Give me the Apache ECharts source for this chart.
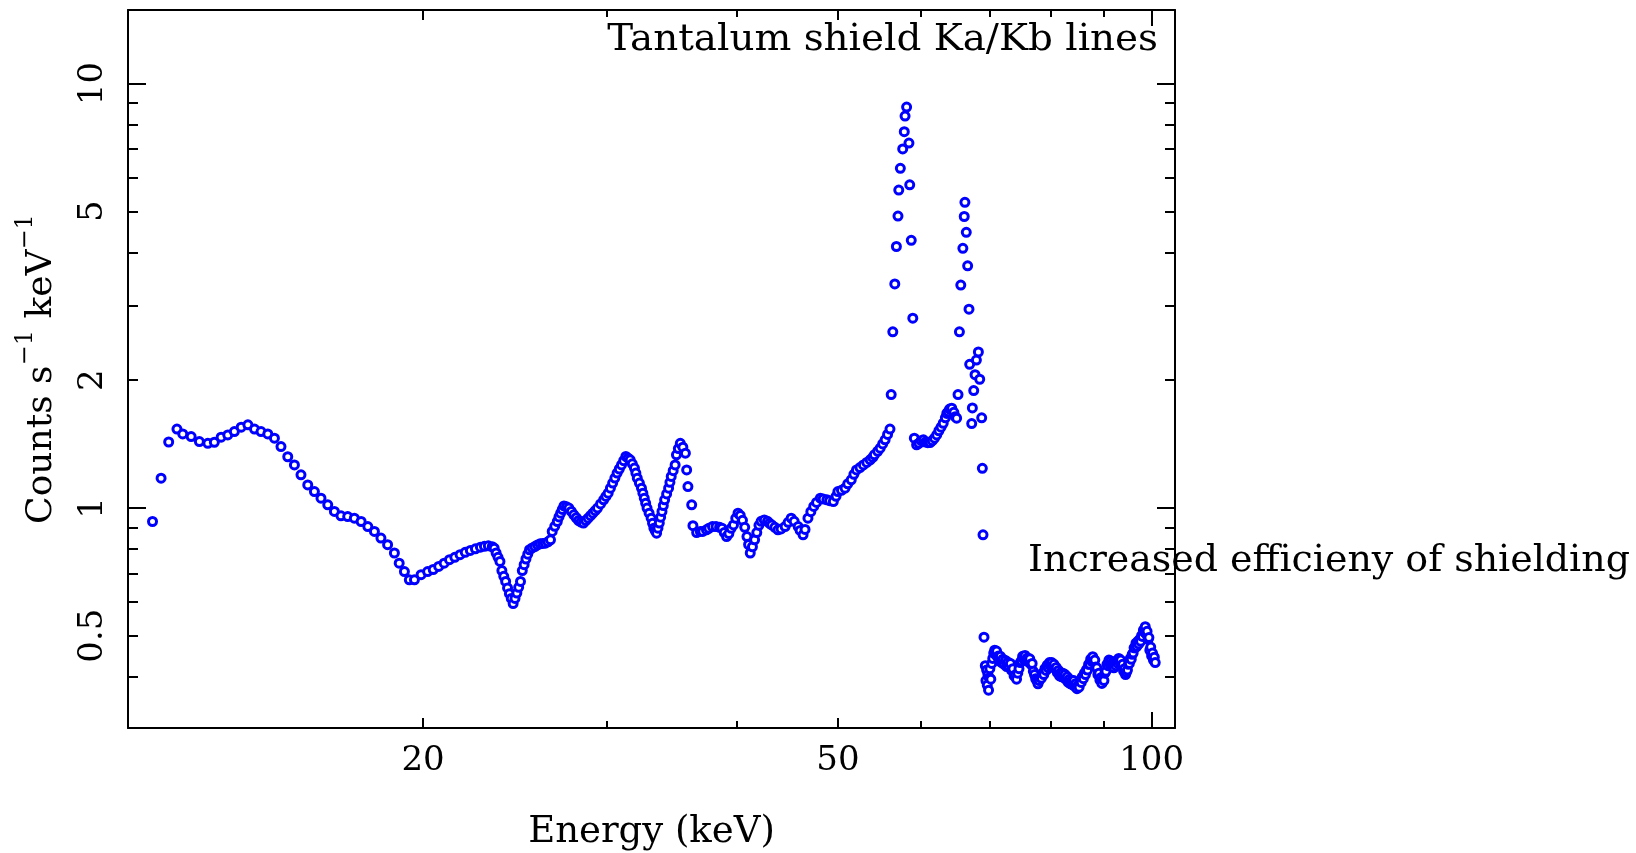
<!doctype html>
<html>
<head>
<meta charset="utf-8">
<title>Tantalum shield Ka/Kb lines</title>
<style>
    html,body{margin:0;padding:0;background:#fff;}
    #ID-Spectrum{width:1636px;height:853px;}
</style>
</head>
<body>
<div id="ID-Spectrum"></div>
<script src="https://cdn.jsdelivr.net/npm/echarts@6/dist/echarts.min.js"></script>
<script>
    /*=========================
      Data  [energy keV, counts s-1 keV-1]
      ===========================*/
    // low-energy hump, 11 - 20 keV
    var riseBand = [
        [11.00,0.929],[11.21,1.175],[11.40,1.430],[11.61,1.534],[11.76,1.494],[11.98,1.473],
        [12.20,1.433],[12.43,1.420],[12.61,1.428],[12.80,1.468],[12.99,1.486],[13.18,1.513],
        [13.38,1.550],[13.58,1.570],[13.78,1.534],[13.98,1.513],[14.19,1.494],[14.40,1.460],
        [14.61,1.395],[14.83,1.320],[15.05,1.263],[15.27,1.197],[15.50,1.133],[15.73,1.093],
        [15.96,1.054],[16.20,1.017],[16.44,0.981],[16.68,0.958],[16.93,0.954],[17.18,0.946],
        [17.44,0.929],[17.70,0.904],[17.96,0.880],[18.22,0.849],[18.49,0.819],[18.77,0.783],
        [18.97,0.741],[19.19,0.708],[19.40,0.677],[19.62,0.677],[19.91,0.696],[20.20,0.708]
    ];
    // edges region, 20 - 36 keV
    var edgeBand = [
        [20.45,0.716],[20.70,0.728],[20.95,0.741],[21.20,0.755],[21.45,0.765],[21.70,0.776],
        [21.95,0.786],[22.20,0.794],[22.45,0.801],[22.70,0.808],[22.90,0.812],[23.10,0.814],
        [23.30,0.810],[23.40,0.804],[23.50,0.783],[23.60,0.765],[23.70,0.748],[23.80,0.712],
        [23.90,0.690],[24.00,0.671],[24.10,0.648],[24.20,0.628],[24.30,0.612],[24.40,0.595],
        [24.50,0.612],[24.60,0.630],[24.70,0.650],[24.80,0.671],[24.90,0.712],[25.00,0.735],
        [25.10,0.758],[25.20,0.778],[25.30,0.797],[25.45,0.805],[25.60,0.811],[25.75,0.818],
        [25.90,0.823],[26.05,0.825],[26.20,0.826],[26.35,0.832],[26.50,0.841],[26.60,0.880],
        [26.75,0.905],[26.90,0.929],[27.00,0.952],[27.10,0.972],[27.20,0.992],[27.30,1.011],
        [27.45,1.006],[27.60,0.999],[27.75,0.981],[27.90,0.963],[28.05,0.948],[28.20,0.934],
        [28.35,0.926],[28.50,0.921],[28.65,0.934],[28.80,0.946],[28.95,0.959],[29.10,0.972],
        [29.25,0.985],[29.40,0.999],[29.60,1.022],[29.80,1.045],[29.95,1.064],[30.10,1.083],
        [30.25,1.113],[30.40,1.144],[30.55,1.176],[30.70,1.208],[30.85,1.235],[31.00,1.263],
        [31.15,1.292],[31.30,1.322],[31.45,1.310],[31.60,1.298],[31.75,1.270],[31.90,1.241],
        [32.00,1.208],[32.10,1.175],[32.25,1.144],[32.40,1.113],[32.50,1.083],[32.60,1.054],
        [32.70,1.026],[32.80,0.999],[32.95,0.972],[33.10,0.946],[33.20,0.920],[33.30,0.896],
        [33.40,0.884],[33.50,0.872],[33.60,0.896],[33.70,0.921],[33.80,0.951],[33.90,0.981],
        [34.00,1.013],[34.10,1.045],[34.25,1.079],[34.40,1.113],[34.50,1.149],[34.60,1.186],
        [34.75,1.224],[34.90,1.263],[35.00,1.334],[35.15,1.380],[35.30,1.420],[35.50,1.390],
        [35.70,1.346],[35.80,1.229],[35.90,1.123],[36.20,1.017],[36.30,0.908]
    ];
    // continuum up to the Ka line, 36 - 56 keV
    var midBand = [
        [36.60,0.875],[36.90,0.880],[37.10,0.880],[37.40,0.888],[37.60,0.895],[37.90,0.904],
        [38.20,0.904],[38.50,0.900],[38.70,0.896],[38.90,0.875],[39.10,0.856],[39.30,0.870],
        [39.50,0.895],[39.70,0.912],[39.90,0.945],[40.10,0.972],[40.30,0.960],[40.50,0.935],
        [40.70,0.900],[40.90,0.856],[41.05,0.820],[41.20,0.783],[41.40,0.810],[41.60,0.841],
        [41.80,0.875],[42.00,0.910],[42.20,0.930],[42.50,0.937],[42.80,0.930],[43.00,0.920],
        [43.20,0.912],[43.50,0.900],[43.80,0.888],[44.10,0.892],[44.50,0.904],[44.80,0.925],
        [45.10,0.946],[45.40,0.930],[45.80,0.904],[46.00,0.885],[46.30,0.864],[46.50,0.890],
        [46.80,0.946],[47.10,0.980],[47.40,1.008],[47.70,1.030],[48.10,1.054],[48.40,1.050],
        [48.80,1.045],[49.10,1.040],[49.50,1.035],[49.80,1.065],[50.00,1.093],[50.40,1.100],
        [50.80,1.113],[51.10,1.140],[51.50,1.165],[51.80,1.200],[52.10,1.229],[52.50,1.245],
        [52.90,1.263],[53.30,1.280],[53.70,1.298],[54.00,1.315],[54.20,1.334],[54.60,1.360],
        [54.90,1.383],[55.20,1.415],[55.50,1.447],[55.80,1.490],[56.10,1.534]
    ];
    // Ta Ka / Kb lines and the K edge, 56 - 69 keV
    var lineBand = [
        [56.25,1.850],[56.45,2.600],[56.70,3.370],[56.90,4.130],[57.10,4.870],[57.20,5.610],
        [57.40,6.310],[57.70,7.010],[57.90,7.700],[58.00,8.380],[58.20,8.800],[58.50,7.240],
        [58.60,5.770],[58.80,4.270],[59.00,2.800],
        [59.20,1.460],[59.50,1.408],[59.80,1.420],[60.10,1.440],[60.40,1.447],[60.70,1.430],
        [61.00,1.425],[61.30,1.426],[61.60,1.440],[61.90,1.460],[62.20,1.486],[62.50,1.520],
        [62.80,1.550],[63.10,1.583],[63.40,1.630],[63.60,1.670],[63.80,1.686],[64.00,1.710],
        [64.30,1.718],[64.60,1.680],[64.80,1.640],[65.00,1.627],
        [65.20,1.850],[65.40,2.600],[65.60,3.350],[65.90,4.090],[66.10,4.860],[66.20,5.250],
        [66.40,4.460],[66.60,3.720],[66.80,2.940],[66.90,2.180],[67.20,1.580],[67.30,1.720],
        [67.50,1.890],[67.70,2.060],[67.90,2.230],[68.20,2.330],[68.40,2.010],[68.70,1.630],
        [68.80,1.240],[68.90,0.864],[69.05,0.496]
    ];
    // shielded continuum above the edge, 69 - 101 keV
    var hardBand = [
        [69.25,0.425],[69.35,0.392],[69.45,0.415],[69.55,0.382],[69.65,0.405],[69.75,0.372],
        [69.85,0.398],[69.95,0.418],[70.10,0.395],[70.25,0.430],[70.40,0.442],[70.55,0.455],
        [70.70,0.462],[70.85,0.452],[71.00,0.460],[71.15,0.445],[71.30,0.448],[71.45,0.436],
        [71.60,0.447],[71.80,0.432],[72.00,0.440],[72.20,0.428],[72.40,0.437],[72.60,0.423],
        [72.80,0.433],[73.00,0.422],[73.20,0.430],[73.40,0.414],[73.60,0.418],[73.80,0.402],
        [74.00,0.404],[74.20,0.395],[74.40,0.408],[74.60,0.418],[74.80,0.432],[75.00,0.436],
        [75.20,0.447],[75.40,0.440],[75.60,0.449],[75.80,0.437],[76.00,0.443],[76.20,0.433],
        [76.40,0.441],[76.60,0.428],[76.80,0.430],[77.00,0.412],[77.20,0.405],[77.40,0.396],
        [77.60,0.392],[77.80,0.385],[78.00,0.392],[78.20,0.398],[78.40,0.397],[78.60,0.408],
        [78.80,0.405],[79.00,0.418],[79.20,0.414],[79.40,0.426],[79.60,0.420],[79.80,0.432],
        [80.00,0.424],[80.20,0.432],[80.40,0.422],[80.60,0.428],[80.80,0.418],[81.00,0.421],
        [81.20,0.409],[81.40,0.414],[81.60,0.402],[81.80,0.409],[82.00,0.400],[82.20,0.408],
        [82.40,0.398],[82.60,0.405],[82.80,0.394],[83.00,0.400],[83.20,0.388],[83.40,0.395],
        [83.60,0.385],[83.80,0.392],[84.00,0.383],[84.20,0.392],[84.40,0.380],[84.60,0.386],
        [84.80,0.375],[85.00,0.382],[85.20,0.378],[85.40,0.390],[85.60,0.388],[85.80,0.400],
        [86.00,0.396],[86.20,0.408],[86.40,0.405],[86.60,0.416],[86.80,0.415],[87.00,0.428],
        [87.20,0.428],[87.40,0.440],[87.60,0.435],[87.80,0.446],[88.00,0.435],[88.20,0.438],
        [88.40,0.422],[88.60,0.420],[88.80,0.405],[89.00,0.408],[89.20,0.393],[89.40,0.398],
        [89.60,0.386],[89.80,0.395],[90.00,0.392],[90.20,0.408],[90.40,0.412],[90.60,0.428],
        [90.80,0.425],[91.00,0.438],[91.20,0.428],[91.40,0.436],[91.60,0.424],[91.80,0.432],
        [92.00,0.420],[92.20,0.430],[92.40,0.425],[92.60,0.436],[92.80,0.430],[93.00,0.442],
        [93.20,0.433],[93.40,0.438],[93.60,0.424],[93.80,0.428],[94.00,0.412],[94.20,0.418],
        [94.40,0.405],[94.60,0.410],[94.80,0.415],[95.00,0.428],[95.20,0.430],[95.40,0.442],
        [95.60,0.440],[95.80,0.452],[96.00,0.455],[96.20,0.468],[96.40,0.468],[96.60,0.480],
        [96.80,0.472],[97.00,0.485],[97.20,0.478],[97.40,0.490],[97.60,0.485],[97.80,0.500],
        [98.00,0.498],[98.20,0.515],[98.40,0.510],[98.60,0.525],[98.80,0.505],[99.00,0.512],
        [99.20,0.490],[99.40,0.495],[99.60,0.462],[99.80,0.470],[100.00,0.448],[100.20,0.455],
        [100.40,0.438],[100.60,0.445],[100.80,0.432]
    ];

    // axis ranges and ticks
    var xRange = [10.42, 105.3];
    var yRange = [0.303, 14.9];
    var xLabels = [20, 50, 100];
    var xMinorTicks = [30, 40, 60, 70, 80, 90];
    var xMidTicks = [20, 50];
    var xMajorTicks = [100];
    var yLabels = [0.5, 1, 2, 5, 10];
    var yMinorTicks = [0.4, 0.5, 0.6, 0.7, 0.8, 0.9, 2, 3, 4, 5, 6, 7, 8, 9];
    var yMajorTicks = [1, 10];

    var FONT = '"DejaVu Serif", "Liberation Serif", serif';

    /*=========================
      Axis helpers
      ===========================*/
    function logAxis(range, position, ticks, len, showLine) {
        return {
            type: 'log',
            logBase: 10,
            position: position,
            min: range[0],
            max: range[1],
            splitLine: {show: false},
            axisLine: {show: showLine, lineStyle: {color: '#000', width: 2}},
            axisTick: {show: true, inside: true, length: len, customValues: ticks,
                lineStyle: {color: '#000', width: 2}},
            axisLabel: {show: false}
        };
    }

    var chart = echarts.init(document.getElementById('ID-Spectrum'), null, {renderer: 'canvas'});

    // bottom axis carries labels and the title
    var xMain = logAxis(xRange, 'bottom', xMinorTicks, 7, true);
    xMain.axisLabel = {show: true, customValues: xLabels, margin: 16,
        color: '#000', fontFamily: FONT, fontSize: 34};
    xMain.name = 'Energy (keV)';
    xMain.nameLocation = 'middle';
    xMain.nameGap = 86;
    xMain.nameTextStyle = {color: '#000', fontFamily: FONT, fontSize: 37};

    var yMain = logAxis(yRange, 'left', yMinorTicks, 10, true);
    yMain.axisLabel = {show: true, customValues: yLabels, rotate: 90, margin: 18,
        color: '#000', fontFamily: FONT, fontSize: 34};
    yMain.name = '{b|Counts s}{s|\u22121}{b| keV}{s|\u22121}';
    yMain.nameLocation = 'middle';
    yMain.nameRotate = 90;
    yMain.nameGap = 68;
    yMain.nameTextStyle = {
        color: '#000',
        rich: {
            b: {fontFamily: FONT, fontSize: 36, lineHeight: 40, verticalAlign: 'bottom', color: '#000'},
            s: {fontFamily: FONT, fontSize: 24, lineHeight: 24, padding: [0, 0, 22, 0],
                verticalAlign: 'bottom', color: '#000'}
        }
    };

    var option = {
        backgroundColor: '#fff',
        animation: false,
        grid: {left: 128, right: 461, top: 10, bottom: 125, containLabel: false, outerBoundsMode: 'none'},
        xAxis: [
            xMain,
            logAxis(xRange, 'bottom', xMidTicks, 10, false),
            logAxis(xRange, 'bottom', xMajorTicks, 16, false),
            logAxis(xRange, 'top', xMinorTicks, 7, true),
            logAxis(xRange, 'top', xMidTicks, 10, false),
            logAxis(xRange, 'top', xMajorTicks, 16, false)
        ],
        yAxis: [
            yMain,
            logAxis(yRange, 'left', yMajorTicks, 18, false),
            logAxis(yRange, 'right', yMinorTicks, 10, true),
            logAxis(yRange, 'right', yMajorTicks, 18, false)
        ],
        graphic: [
            {type: 'text', x: 1158, y: 40, scaleX: 1.05, silent: true,
                style: {text: 'Tantalum shield Ka/Kb lines', fill: '#000',
                    font: '37px ' + FONT, align: 'right', verticalAlign: 'middle'}},
            {type: 'text', x: 1028, y: 561, scaleX: 1.025, silent: true,
                style: {text: 'Increased efficieny of shielding', fill: '#000',
                    font: '37px ' + FONT, align: 'left', verticalAlign: 'middle'}}
        ],
        series: [{
            name: 'Spectrum',
            type: 'scatter',
            xAxisIndex: 0,
            yAxisIndex: 0,
            // blue rings with a small white centre
            symbol: 'circle',
            symbolSize: 8,
            itemStyle: {color: '#ffffff', borderColor: '#0000ff', borderWidth: 3, opacity: 1},
            silent: true,
            data: [].concat(riseBand, edgeBand, midBand, lineBand, hardBand)
        }]
    };
    chart.setOption(option);
</script>
</body>
</html>
